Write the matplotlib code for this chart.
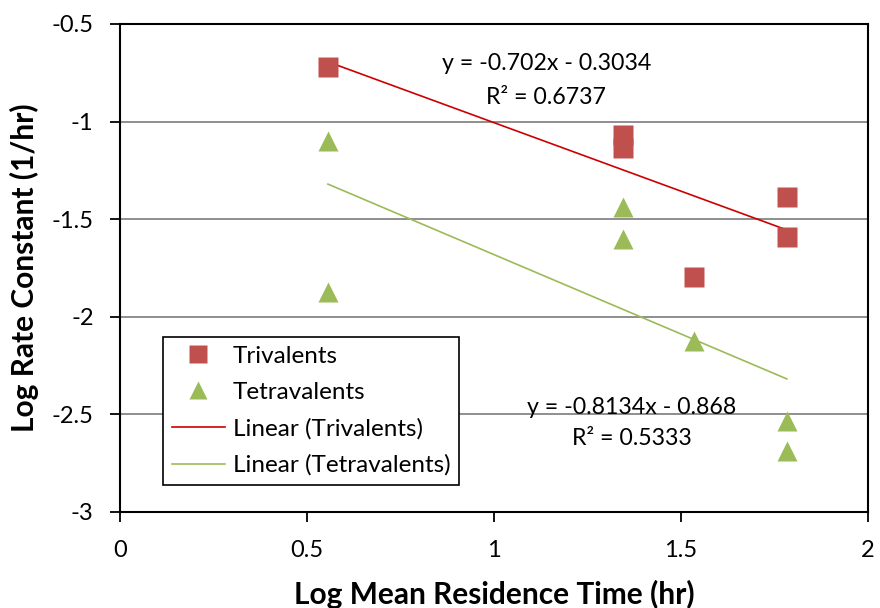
import matplotlib
matplotlib.use("Agg")
import matplotlib.pyplot as plt
import numpy as np

# Data
tri_x = [0.556, 1.345, 1.345, 1.535, 1.783, 1.783]
tri_y = [-0.720, -1.069, -1.135, -1.796, -1.386, -1.591]
tet_x = [0.556, 0.556, 1.345, 1.345, 1.535, 1.783, 1.783]
tet_y = [-1.097, -1.873, -1.440, -1.601, -2.124, -2.536, -2.690]
tri_fit = (-0.702, -0.3034, 0.6737)
tet_fit = (-0.8134, -0.868, 0.5333)
xticks = [0, 0.5, 1, 1.5, 2]
yticks = [-3, -2.5, -2, -1.5, -1, -0.5]

plt.rcParams['font.family'] = ['Lato', 'DejaVu Sans']

fig = plt.figure(figsize=(8.8, 6.08), dpi=100)
W, H = 880, 608
ax = fig.add_axes([120 / W, 1 - 512 / H, 748 / W, 488 / H])

ax.set_xlim(0, 2)
ax.set_ylim(-3, -0.5)
ax.set_xticks(xticks)
ax.set_xticklabels(['0', '0.5', '1', '1.5', '2'])
ax.set_yticks(yticks)
ax.set_yticklabels(['-3', '-2.5', '-2', '-1.5', '-1', '-0.5'])
for y in yticks[1:-1]:
    ax.axhline(y, color='#868686', lw=1.3, zorder=0)

for s in ax.spines.values():
    s.set_color('black')
    s.set_linewidth(1.5)
ax.tick_params(axis='both', direction='out', length=7, width=1.3, labelsize=17, colors='black')
ax.tick_params(axis='y', pad=12)
ax.tick_params(axis='x', pad=13)

red_m = '#C0504D'
grn_m = '#9BBB59'
red_l = '#CC0000'

ax.plot(tri_x, tri_y, 's', color=red_m, ms=14.5, mec='none', label='Trivalents', zorder=3)
ax.plot(tet_x, tet_y, '^', color=grn_m, ms=14.5, mec='none', label='Tetravalents', zorder=3)

xs = np.array([min(tri_x), max(tri_x)])
ax.plot(xs, tri_fit[0] * xs + tri_fit[1], color=red_l, lw=1.2, label='Linear (Trivalents)', zorder=2)
xs2 = np.array([min(tet_x), max(tet_x)])
ax.plot(xs2, tet_fit[0] * xs2 + tet_fit[1], color=grn_m, lw=1.2, label='Linear (Tetravalents)', zorder=2)

eq_fs = 16.7
ax.text(1.14, -0.700, f"y = {tri_fit[0]:.3f}x - {abs(tri_fit[1]):.4f}", ha='center', va='center', fontsize=eq_fs)
ax.text(1.14, -0.874, f"R² = {tri_fit[2]:.4f}", ha='center', va='center', fontsize=eq_fs)
ax.text(1.369, -2.467, f"y = {tet_fit[0]:.4f}x - {abs(tet_fit[1]):.3f}", ha='center', va='center', fontsize=eq_fs)
ax.text(1.369, -2.621, f"R² = {tet_fit[2]:.4f}", ha='center', va='center', fontsize=eq_fs)

leg = ax.legend(loc='upper left', bbox_to_anchor=((163 - 120) / 748, (512 - 337) / 488),
                fontsize=17.5, frameon=True, fancybox=False, edgecolor='black', framealpha=1,
                borderaxespad=0, handlelength=2.2, handletextpad=0.3, labelspacing=0.62,
                borderpad=0.36, markerscale=0.85)
leg.get_frame().set_linewidth(1.2)

ax.set_xlabel('Log Mean Residence Time (hr)', fontsize=21.5, fontweight='bold', labelpad=14)
ax.set_ylabel('Log Rate Constant (1/hr)', fontsize=21.5, fontweight='bold', labelpad=9)

fig.savefig('out.png', dpi=100)
